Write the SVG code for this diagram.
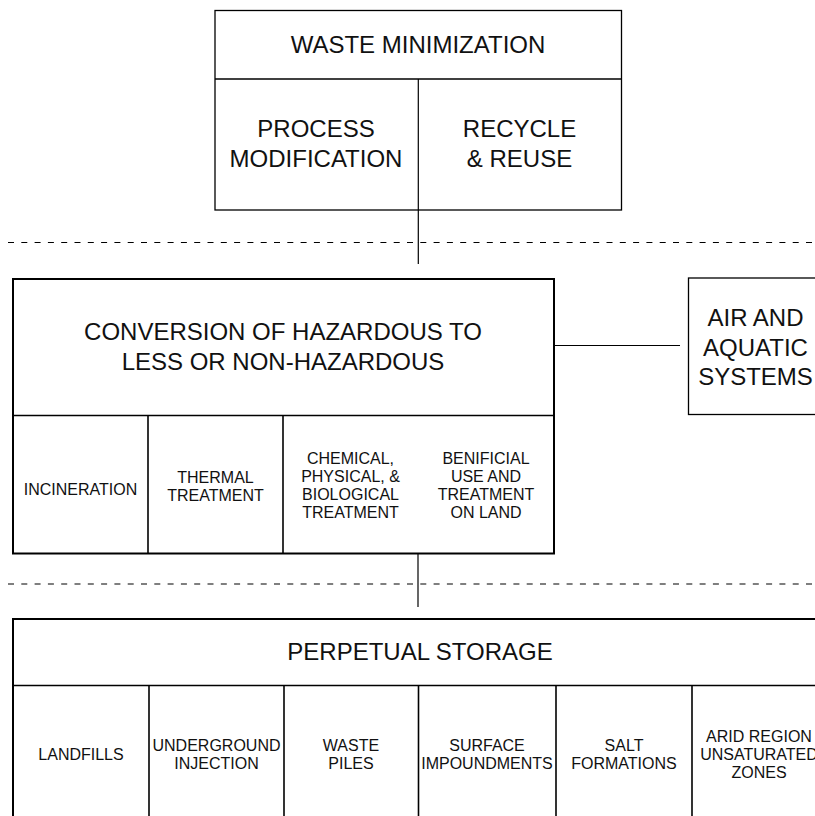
<svg xmlns="http://www.w3.org/2000/svg" width="815" height="816" viewBox="0 0 815 816">
<style>
  text { font-family: "Liberation Sans", Arial, sans-serif; fill: #111; text-anchor: middle; }
  .big { font-size: 24px; }
  .small { font-size: 16px; }
  .thin { fill: #fff; stroke: #000; stroke-width: 1.3; }
  .thick { fill: #fff; stroke: #000; stroke-width: 2; }
  .div { stroke: #000; stroke-width: 1.6; fill: none; }
  .conn { stroke: #000; stroke-width: 1.2; fill: none; }
  .dash { stroke: #000; stroke-width: 1.2; stroke-dasharray: 6 7.3; fill: none; }
</style>
<rect width="815" height="816" fill="#fff"/>
<g id="levels">
  <line class="dash" x1="8" y1="242.5" x2="815" y2="242.5"/>
  <line class="dash" x1="8" y1="584" x2="815" y2="584"/>
</g>
<g id="waste-minimization">
  <rect class="thin" x="215" y="10.5" width="406.5" height="199.5"/>
  <line class="thin" x1="215" y1="79" x2="621.5" y2="79"/>
  <text class="big" x="418" y="53">WASTE MINIMIZATION</text>
  <text class="big" x="316" y="137">PROCESS</text>
  <text class="big" x="316" y="167">MODIFICATION</text>
  <text class="big" x="519.5" y="137">RECYCLE</text>
  <text class="big" x="519.5" y="167">&amp; REUSE</text>
</g>
<g id="conversion">
  <rect class="thick" x="13" y="279" width="541" height="274.5"/>
  <line class="div" x1="13" y1="415.5" x2="554" y2="415.5"/>
  <line class="div" x1="148" y1="415.5" x2="148" y2="553.5"/>
  <line class="div" x1="283" y1="415.5" x2="283" y2="553.5"/>
  <text class="big" x="283" y="340">CONVERSION OF HAZARDOUS TO</text>
  <text class="big" x="283" y="369.5">LESS OR NON-HAZARDOUS</text>
  <text class="small" x="80.5" y="495">INCINERATION</text>
  <text class="small" x="215.5" y="483">THERMAL</text>
  <text class="small" x="215.5" y="501">TREATMENT</text>
  <text class="small" x="350.5" y="464">CHEMICAL,</text>
  <text class="small" x="350.5" y="482">PHYSICAL, &amp;</text>
  <text class="small" x="350.5" y="500">BIOLOGICAL</text>
  <text class="small" x="350.5" y="518">TREATMENT</text>
  <text class="small" x="486" y="464">BENIFICIAL</text>
  <text class="small" x="486" y="482">USE AND</text>
  <text class="small" x="486" y="500">TREATMENT</text>
  <text class="small" x="486" y="518">ON LAND</text>
</g>
<g id="air-aquatic">
  <rect class="thin" x="688.5" y="278" width="134" height="136.5"/>
  <text class="big" x="755.5" y="326">AIR AND</text>
  <text class="big" x="755.5" y="355.5">AQUATIC</text>
  <text class="big" x="755.5" y="385">SYSTEMS</text>
</g>
<g id="perpetual-storage">
  <rect class="thick" x="13" y="619" width="816" height="210"/>
  <line class="div" x1="13" y1="685.5" x2="829" y2="685.5"/>
  <line class="div" x1="149" y1="685.5" x2="149" y2="829"/>
  <line class="div" x1="284" y1="685.5" x2="284" y2="829"/>
  <line class="div" x1="418.5" y1="685.5" x2="418.5" y2="829"/>
  <line class="div" x1="556" y1="685.5" x2="556" y2="829"/>
  <line class="div" x1="692" y1="685.5" x2="692" y2="829"/>
  <text class="big" x="420" y="660">PERPETUAL STORAGE</text>
  <text class="small" x="81" y="760">LANDFILLS</text>
  <text class="small" x="216.5" y="751">UNDERGROUND</text>
  <text class="small" x="216.5" y="769">INJECTION</text>
  <text class="small" x="351" y="751">WASTE</text>
  <text class="small" x="351" y="769">PILES</text>
  <text class="small" x="487" y="751">SURFACE</text>
  <text class="small" x="487" y="769">IMPOUNDMENTS</text>
  <text class="small" x="624" y="751">SALT</text>
  <text class="small" x="624" y="769">FORMATIONS</text>
  <text class="small" x="759" y="742">ARID REGION</text>
  <text class="small" x="759" y="760">UNSATURATED</text>
  <text class="small" x="759" y="778">ZONES</text>
</g>
<g id="connectors">
  <line class="conn" x1="418.3" y1="79" x2="418.3" y2="264"/>
  <line class="conn" x1="418" y1="553" x2="418" y2="607"/>
  <line class="conn" x1="554" y1="345.5" x2="680" y2="345.5"/>
</g>
</svg>
